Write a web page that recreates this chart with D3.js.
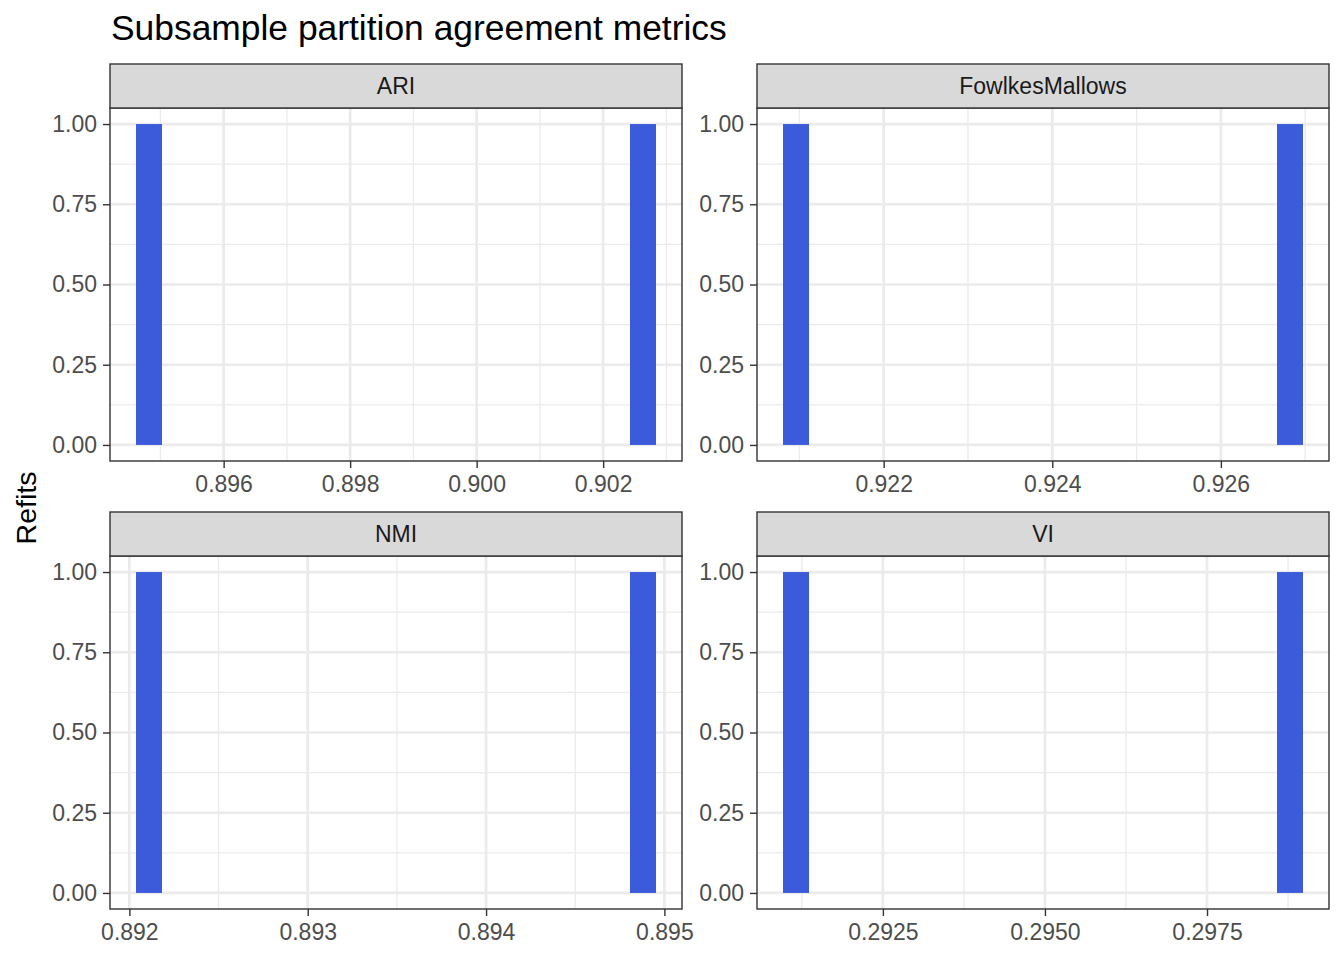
<!DOCTYPE html>
<html>
<head>
<meta charset="utf-8">
<script src="https://cdn.jsdelivr.net/npm/d3@7"></script>
<style>
  body { margin: 0; background: #fff; }
  text { font-family: "Liberation Sans", Arial, Helvetica, sans-serif; }
</style>
</head>
<body>
<div id="chart"></div>
<script>
// Facet names and the two refit values seen in each facet
const metrics = ["ARI", "FowlkesMallows", "NMI", "VI"];
const ariValues = [0.89482, 0.90263];
const fmValues = [0.92096, 0.92682];
const nmiValues = [0.89211, 0.89488];
const viValues = [0.29116, 0.29878];

// Tick labels per facet (free x scales)
const ariTicks = ["0.896", "0.898", "0.900", "0.902"];
const fmTicks = ["0.922", "0.924", "0.926"];
const nmiTicks = ["0.892", "0.893", "0.894", "0.895"];
const viTicks = ["0.2925", "0.2950", "0.2975"];
const yTicks = ["0.00", "0.25", "0.50", "0.75", "1.00"];

const nBins = 20;
const barColor = "#3B5BDB";

let svg = d3.select("#chart").append("svg")
    .attr("width", 1344)
    .attr("height", 960);

// layout of the 2x2 facet grid
let cols = [{x0: 110, x1: 682}, {x0: 757, x1: 1329}];
let rows = [{strip: 64, top: 108, bottom: 461}, {strip: 512, top: 556, bottom: 909}];

let panels = [
    {name: metrics[0], values: ariValues, ticks: ariTicks, col: cols[0], row: rows[0]},
    {name: metrics[1], values: fmValues, ticks: fmTicks, col: cols[1], row: rows[0]},
    {name: metrics[2], values: nmiValues, ticks: nmiTicks, col: cols[0], row: rows[1]},
    {name: metrics[3], values: viValues, ticks: viTicks, col: cols[1], row: rows[1]}
];

// ggplot-style binning: bins centred on the min and max value
function binValues(values, n) {
    let lo = d3.min(values), hi = d3.max(values);
    let bw = (hi - lo) / (n - 1);
    let bins = d3.range(n).map(i => ({x0: lo + (i - 0.5) * bw, x1: lo + (i + 0.5) * bw, count: 0}));
    values.forEach(v => { bins[Math.round((v - lo) / bw)].count += 1; });
    return bins;
}

// minor breaks half way between majors, one step past each end
function minorBreaks(major, domain) {
    let step = major[1] - major[0];
    let out = [];
    for (let i = -1; i < major.length; i++) {
        let m = major[0] + (i + 0.5) * step;
        if (m >= domain[0] && m <= domain[1]) out.push(m);
    }
    return out;
}

panels.forEach(p => DrawPanel(p));

function DrawPanel(p) {
    let bins = binValues(p.values, nBins);
    let lo = bins[0].x0, hi = bins[bins.length - 1].x1;
    let pad = (hi - lo) * 0.05;
    let maxCount = d3.max(bins, d => d.count);

    let xScale = d3.scaleLinear()
        .domain([lo - pad, hi + pad])
        .range([p.col.x0, p.col.x1]);

    let yScale = d3.scaleLinear()
        .domain([-maxCount * 0.05, maxCount * 1.05])
        .range([p.row.bottom, p.row.top]);

    let xMajor = p.ticks.map(t => +t);
    let yMajor = yTicks.map(t => +t);
    let g = svg.append("g");

    // panel background
    g.append("rect")
        .attr("x", p.col.x0)
        .attr("y", p.row.top)
        .attr("width", p.col.x1 - p.col.x0)
        .attr("height", p.row.bottom - p.row.top)
        .attr("fill", "#fff");

    // minor grid
    g.selectAll(".xminor")
        .data(minorBreaks(xMajor, xScale.domain()))
        .enter().append("line")
        .attr("x1", d => xScale(d)).attr("x2", d => xScale(d))
        .attr("y1", p.row.top).attr("y2", p.row.bottom)
        .attr("stroke", "#ebebeb").attr("stroke-width", 1.3);

    g.selectAll(".yminor")
        .data(minorBreaks(yMajor, yScale.domain()))
        .enter().append("line")
        .attr("x1", p.col.x0).attr("x2", p.col.x1)
        .attr("y1", d => yScale(d)).attr("y2", d => yScale(d))
        .attr("stroke", "#ebebeb").attr("stroke-width", 1.3);

    // major grid
    g.selectAll(".xmajor")
        .data(xMajor)
        .enter().append("line")
        .attr("x1", d => xScale(d)).attr("x2", d => xScale(d))
        .attr("y1", p.row.top).attr("y2", p.row.bottom)
        .attr("stroke", "#ebebeb").attr("stroke-width", 2.7);

    g.selectAll(".ymajor")
        .data(yMajor)
        .enter().append("line")
        .attr("x1", p.col.x0).attr("x2", p.col.x1)
        .attr("y1", d => yScale(d)).attr("y2", d => yScale(d))
        .attr("stroke", "#ebebeb").attr("stroke-width", 2.7);

    // bars
    g.selectAll(".bar")
        .data(bins)
        .enter().append("rect")
        .attr("class", "bar")
        .attr("x", d => xScale(d.x0))
        .attr("width", d => xScale(d.x1) - xScale(d.x0))
        .attr("y", d => yScale(d.count))
        .attr("height", d => yScale(0) - yScale(d.count))
        .attr("fill", barColor);

    // panel border
    g.append("rect")
        .attr("x", p.col.x0)
        .attr("y", p.row.top)
        .attr("width", p.col.x1 - p.col.x0)
        .attr("height", p.row.bottom - p.row.top)
        .attr("fill", "none")
        .attr("stroke", "#333333")
        .attr("stroke-width", 1.4);

    // strip
    g.append("rect")
        .attr("x", p.col.x0)
        .attr("y", p.row.strip)
        .attr("width", p.col.x1 - p.col.x0)
        .attr("height", p.row.top - p.row.strip)
        .attr("fill", "#d9d9d9")
        .attr("stroke", "#333333")
        .attr("stroke-width", 1.4);

    g.append("text")
        .attr("x", (p.col.x0 + p.col.x1) / 2)
        .attr("y", (p.row.strip + p.row.top) / 2)
        .attr("dy", "0.35em")
        .attr("text-anchor", "middle")
        .style("font-size", "23px")
        .attr("fill", "#1a1a1a")
        .text(p.name);

    // axes
    let xAxis = d3.axisBottom(xScale)
        .tickValues(xMajor)
        .tickFormat((d, i) => p.ticks[i])
        .tickSize(7)
        .tickPadding(8);

    let xg = g.append("g")
        .attr("transform", `translate(0,${p.row.bottom})`)
        .call(xAxis);

    let yAxis = d3.axisLeft(yScale)
        .tickValues(yMajor)
        .tickFormat((d, i) => yTicks[i])
        .tickSize(7)
        .tickPadding(6);

    let yg = g.append("g")
        .attr("transform", `translate(${p.col.x0},0)`)
        .call(yAxis);

    [xg, yg].forEach(a => {
        a.select(".domain").remove();
        a.selectAll(".tick line").attr("stroke", "#333333").attr("stroke-width", 1.4);
        a.selectAll(".tick text")
            .attr("fill", "#4d4d4d")
            .style("font-size", "23px")
            .style("font-family", "'Liberation Sans', Arial, Helvetica, sans-serif");
    });
}

svg.append("text")
    .attr("x", 111)
    .attr("y", 40)
    .style("font-size", "35.4px")
    .attr("fill", "#000")
    .text("Subsample partition agreement metrics");

svg.append("text")
    .attr("transform", "translate(36,508) rotate(-90)")
    .attr("text-anchor", "middle")
    .style("font-size", "28.5px")
    .attr("fill", "#000")
    .text("Refits");
</script>
</body>
</html>
